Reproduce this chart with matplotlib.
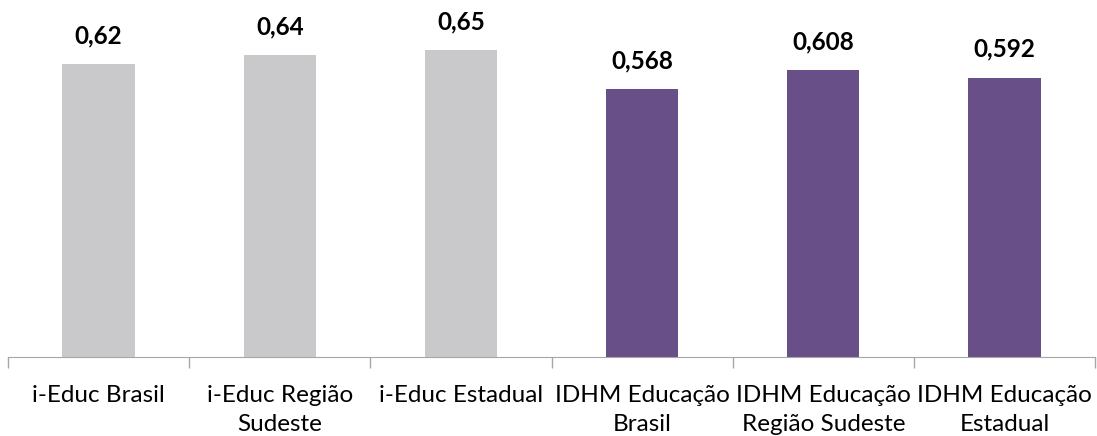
import matplotlib.pyplot as plt

categories = ["i-Educ Brasil", "i-Educ Região\nSudeste", "i-Educ Estadual",
              "IDHM Educação\nBrasil", "IDHM Educação\nRegião Sudeste", "IDHM Educação\nEstadual"]
values = [0.62, 0.64, 0.65, 0.568, 0.608, 0.592]
value_labels = ["0,62", "0,64", "0,65", "0,568", "0,608", "0,592"]
colors = ["#C9C9CB"] * 3 + ["#684F88"] * 3

plt.rcParams['font.family'] = ['Lato', 'DejaVu Sans']

fig = plt.figure(figsize=(10.97, 4.36), dpi=100)
ax = fig.add_axes([8 / 1097, 79 / 436, 1087 / 1097, 354 / 436])

x = range(len(categories))
bars = ax.bar(x, values, width=0.4, color=colors)

for b, lab in zip(bars, value_labels):
    ax.annotate(lab, (b.get_x() + b.get_width() / 2, b.get_height()),
                xytext=(0, 12), textcoords='offset points',
                ha='center', va='bottom', fontsize=17.5, fontweight='bold', color='black')

ax.set_xlim(-0.5, 5.5)
ax.set_ylim(0, 0.75)
ax.set_yticks([])
ax.set_xticks([i - 0.5 for i in range(7)])
ax.set_xticklabels([])
ax.set_xticks(list(x), minor=True)
ax.set_xticklabels(categories, minor=True, fontsize=17.5, linespacing=1.5)
ax.tick_params(axis='x', which='major', length=8, color='#A6A6A6', width=1)
ax.tick_params(axis='x', which='minor', length=0, pad=20)

for s in ['top', 'right', 'left']:
    ax.spines[s].set_visible(False)
ax.spines['bottom'].set_color('#A6A6A6')

fig.savefig('out.png', dpi=100)
